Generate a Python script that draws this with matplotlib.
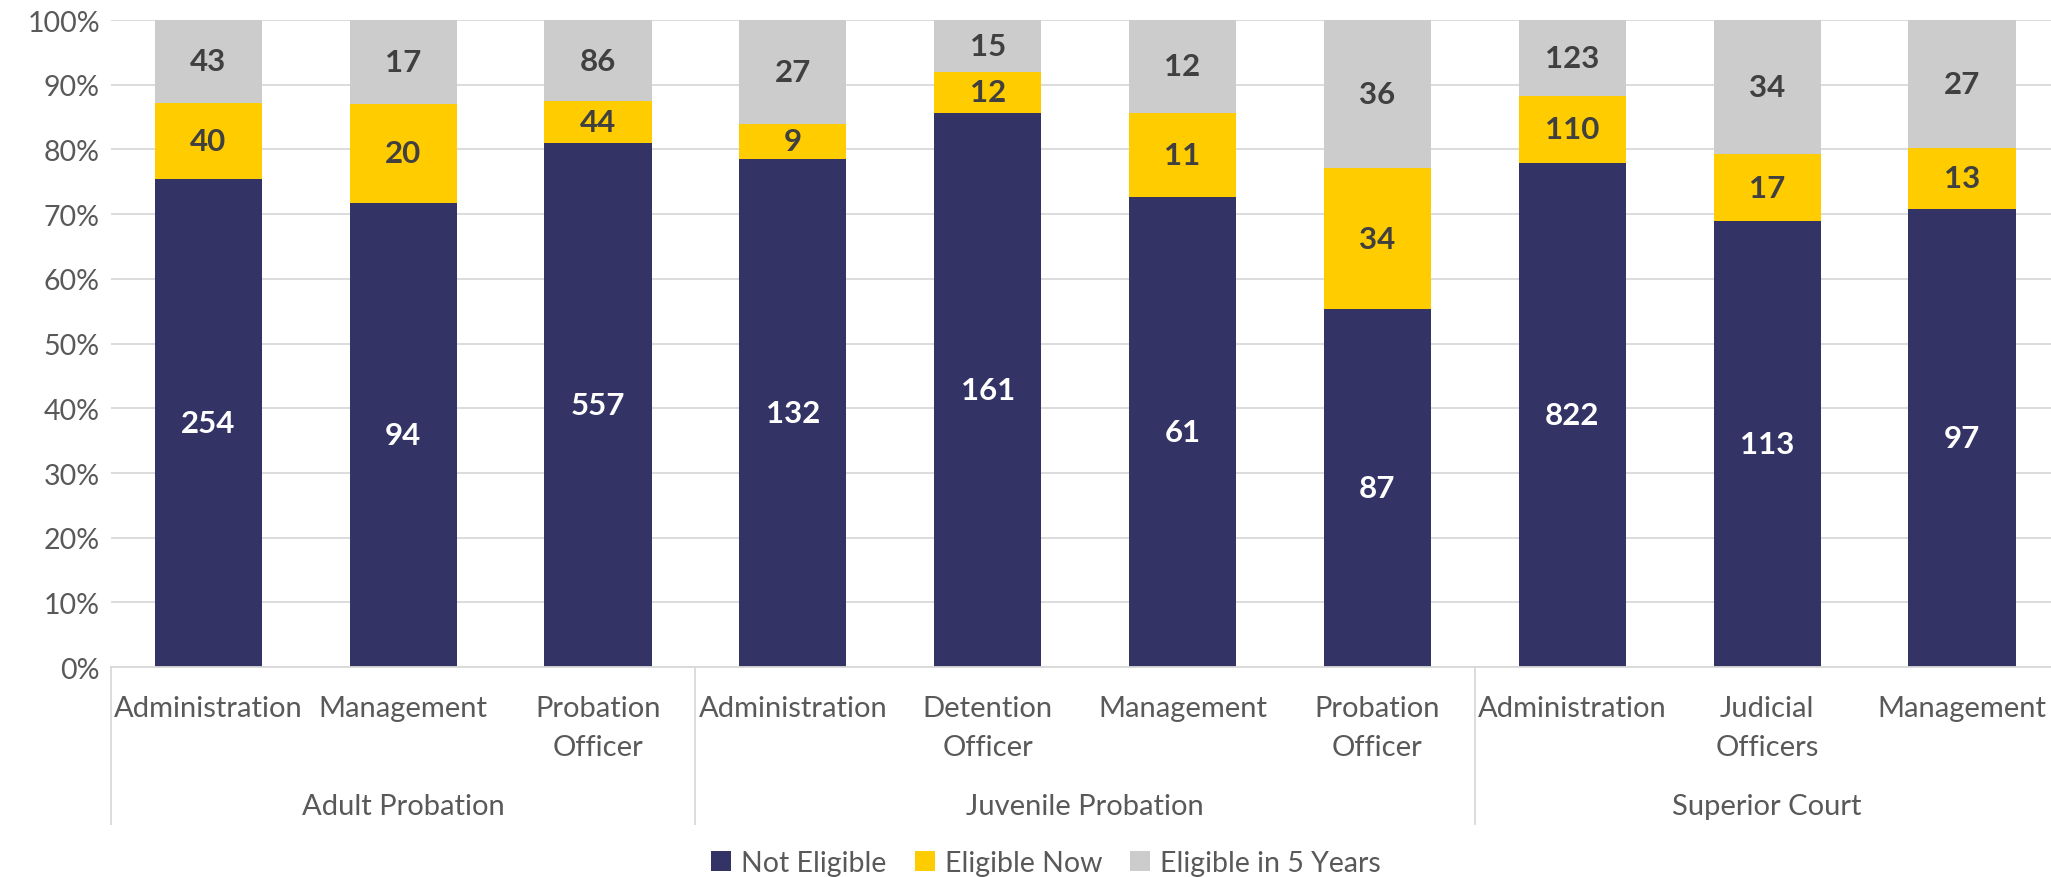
import numpy as np
import matplotlib
matplotlib.use("Agg")
import matplotlib.pyplot as plt
from matplotlib.ticker import PercentFormatter

plt.rcParams['font.family'] = ['Lato', 'DejaVu Sans']

# categories and groups
roles = ['Administration', 'Management', 'Probation\nOfficer',
         'Administration', 'Detention\nOfficer', 'Management', 'Probation\nOfficer',
         'Administration', 'Judicial\nOfficers', 'Management']
groups = ['Adult Probation', 'Juvenile Probation', 'Superior Court']
group_sizes = [3, 4, 3]

# counts
not_eligible = [254, 94, 557, 132, 161, 61, 87, 822, 113, 97]
eligible_now = [40, 20, 44, 9, 12, 11, 34, 110, 17, 13]
eligible_5yrs = [43, 17, 86, 27, 15, 12, 36, 123, 34, 27]

series = [('Not Eligible', not_eligible, '#333366', 'white'),
          ('Eligible Now', eligible_now, '#FFCC00', '#404040'),
          ('Eligible in 5 Years', eligible_5yrs, '#CCCCCC', '#404040')]

counts = np.array([not_eligible, eligible_now, eligible_5yrs], dtype=float)
totals = counts.sum(axis=0)
shares = counts / totals * 100

fig = plt.figure(figsize=(20.51, 8.78), dpi=100)
ax = fig.add_axes([0.0541, 0.239, 0.950, 0.737])

x = np.arange(len(roles))
bottom = np.zeros(len(roles))
for (name, vals, col, txtcol), pct in zip(series, shares):
    ax.bar(x, pct, 0.55, bottom=bottom, color=col, label=name, zorder=2)
    for xi, b, p, v in zip(x, bottom, pct, vals):
        ax.text(xi, b + p / 2, str(v), ha='center', va='center',
                fontsize=22.5, fontweight='bold', color=txtcol, zorder=3)
    bottom += pct

ax.set_xlim(-0.5, len(roles) - 0.5)
ax.set_ylim(0, 100)
ax.set_yticks(np.arange(0, 101, 10))
ax.yaxis.set_major_formatter(PercentFormatter(decimals=0))
ax.grid(axis='y', color='#d9d9d9', lw=1.3, zorder=0)
ax.set_axisbelow(True)
for s in ['left', 'right', 'top']:
    ax.spines[s].set_visible(False)
ax.spines['bottom'].set_color('#d9d9d9')
ax.spines['bottom'].set_linewidth(1.3)

ax.set_xticks(x)
ax.set_xticklabels(roles, linespacing=1.62)
ax.tick_params(axis='x', length=0, pad=20, labelsize=21, labelcolor='#595959')
ax.tick_params(axis='y', length=0, pad=8, labelsize=20.5, labelcolor='#595959')

# group separators and labels
edges = np.concatenate([[0], np.cumsum(group_sizes)]) - 0.5
for e in edges:
    ax.plot([e, e], [0, -0.243], color='#d9d9d9', lw=1.3,
            transform=ax.get_xaxis_transform(), clip_on=False)
for g, a, b in zip(groups, edges[:-1], edges[1:]):
    ax.text((a + b) / 2, -0.214, g, ha='center', va='center', fontsize=21,
            color='#595959', transform=ax.get_xaxis_transform())

leg = fig.legend(loc='center', bbox_to_anchor=(0.51, 0.016), ncol=3, frameon=False,
                 fontsize=20.5, handlelength=0.7, handleheight=0.7, handletextpad=0.35,
                 columnspacing=1.0)
for t in leg.get_texts():
    t.set_color('#595959')

fig.savefig('out.png', dpi=100)
